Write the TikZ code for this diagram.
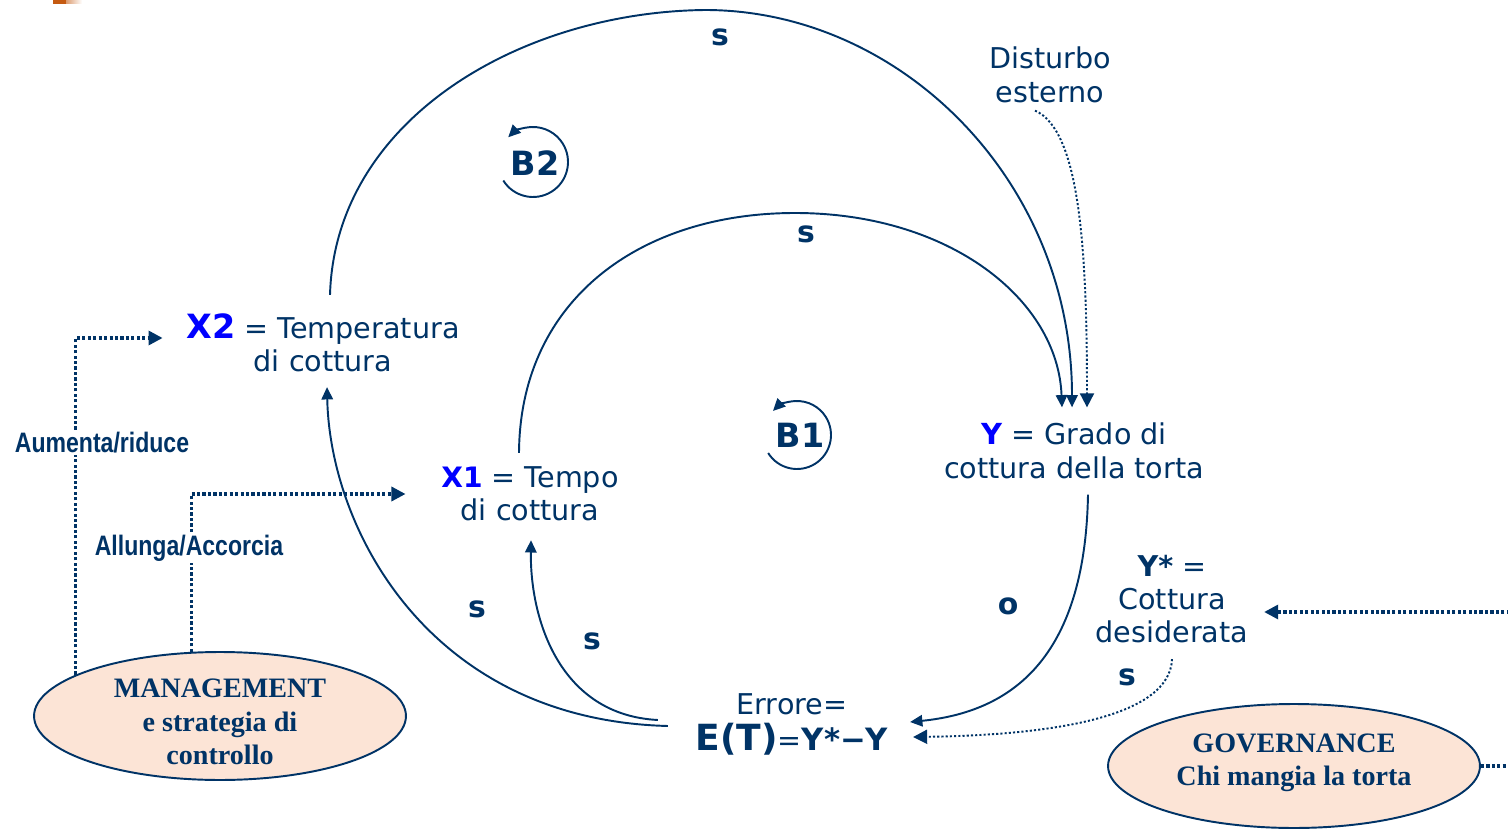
\documentclass[tikz,border=0pt]{standalone}
\usepackage{fontspec}
\setmainfont{DejaVu Sans}
\newfontfamily\mgmtfont{Liberation Serif}
\newfontfamily\narrowfont{Liberation Sans}[FakeStretch=0.82]
\usetikzlibrary{arrows.meta,shapes.geometric,calc}
\definecolor{navy}{RGB}{0,51,102}
\definecolor{peach}{RGB}{252,228,214}
\definecolor{xblue}{RGB}{0,0,255}
\definecolor{tabcol}{RGB}{197,90,17}
\newcommand{\vb}[2][16]{{\fontsize{#1}{19}\selectfont\color{xblue}\bfseries #2}}

\begin{document}
\begin{tikzpicture}[x=0.02cm, y=0.02cm, yscale=-1, >={Triangle[length=7pt,width=6.5pt]},
    every node/.style={text=navy, align=center, inner sep=2pt, font=\fontsize{16.3}{19}\selectfont},
    link/.style={draw=navy, line width=1.1pt, ->},
    infl/.style={draw=navy, line width=1.8pt, dash pattern=on 1.8pt off 1.3pt, -{Triangle[length=8pt,width=8pt]}},
    sign/.style={font=\fontsize{17}{19}\selectfont\bfseries},
    loopname/.style={font=\fontsize{19}{21}\selectfont\bfseries},
    actor/.style={ellipse, draw=navy, line width=1.1pt, fill=peach, inner sep=0pt,
      minimum width=7.44cm, minimum height=2.56cm, font=\fontsize{16}{19}\selectfont\mgmtfont\bfseries},
    lever/.style={fill=white, inner sep=1pt, font=\fontsize{16}{19}\selectfont\narrowfont\bfseries}]
    \useasboundingbox (0,0) rectangle (1508,831);
    \clip (0,0) rectangle (1508,831);
    % corner tab
    \fill[tabcol] (53,0) rectangle (66,4);
    \shade[left color=tabcol!60, right color=white] (66,0) rectangle (82,4);

    % variables
    \node (dist) at (1050,75) {Disturbo\\esterno};
    \node (x2) at (323,343) {\vb[19]{X2} = Temperatura\\di cottura};
    \node (x1) at (530,494) {\vb{X1} = Tempo\\di cottura};
    \node (y) at (1074,451) {\vb[16.5]{Y} = Grado di\\cottura della torta};
    \node (ystar) at (1172,599) {{\bfseries Y*} =\\Cottura\\desiderata};
    \node[font=\fontsize{16.3}{20.5}\selectfont] (err) at (792,724)
      {Errore=\\{\fontsize{20.5}{20.5}\selectfont\bfseries E(T)}={\fontsize{17.5}{20.5}\selectfont\bfseries Y*−Y}};
    \node[actor] (mgmt) at (220,716) {};
    \node[font=\fontsize{16}{19}\selectfont\mgmtfont\bfseries] (mgmtname) at (220,722) {MANAGEMENT\\e strategia di\\controllo};
    \node[actor, minimum height=2.48cm] (gov) at (1294,766) {GOVERNANCE\\Chi mangia la torta\rule[-7pt]{0pt}{0pt}};

    % loops
    \node[loopname] (b2) at (535,163) {B2};
    \draw[link] (b2.center) ++(-2,-1) ++(148:35) arc (148:-135:35);
    \node[loopname] (b1) at (800,435) {B1};
    \draw[link] (b1.center) ++(-3,0) ++(148:34) arc (148:-135:34);

    % causal links
    \draw[link] ($(x2.north)+(7,-15)$) .. controls (335,120) and (520,12) .. (705,10)
      .. controls (900,10) and (1072,180) .. ($(y.north)+(-2,-12)$);
    \draw[link] ($(x1.north)+(-11,-10)$) .. controls (520,300) and (640,213) .. (795,213)
      .. controls (950,213) and (1058,300) .. ($(y.north)+(-12,-12)$);
    \draw[infl, line width=1.1pt, dash pattern=on 1.2pt off 1.2pt] ($(dist.south)+(-15,4)$)
      .. controls (1080,130) and (1087,250) .. ($(y.north)+(13,-12)$);
    \draw[link] ($(y.south)+(14,12)$) .. controls (1085,660) and (1010,712) .. ($(err.east)+(18,-2)$);
    \draw[infl, line width=1.1pt, dash pattern=on 1.2pt off 1.2pt] ($(ystar.south)+(0,12)$)
      .. controls (1170,715) and (1060,735) .. ($(err.east)+(21,13)$);
    \draw[link] ($(err.west)+(-34,-4)$) .. controls (560,715) and (530,620) .. ($(x1.south)+(1,15)$);
    \draw[link] ($(err.west)+(-24,2)$) .. controls (430,720) and (330,530) .. ($(x2.south)+(4,11)$);

    % signs
    \node[sign] (s1) at (720,37) {s};
    \node[sign] (s2) at (806,234) {s};
    \node[sign] (s3) at (477,609) {s};
    \node[sign] (s4) at (592,641) {s};
    \node[sign] (s5) at (1127,677) {s};
    \node[sign] (o1) at (1008,606) {o};

    % levers
    \draw[infl] (mgmt.164) |- ($(x2.west)+(-20,-5)$);
    \node[lever] (aum) at (102,443) {Aumenta/riduce};
    \draw[infl] (mgmt.114) |- ($(x1.west)+(-32,0)$);
    \node[lever] (all) at (189,548) {Allunga/Accorcia};
    \draw[infl] (gov.east) -- ++(60,0) |- ($(ystar.east)+(12,13)$);
  \end{tikzpicture}
\end{document}
